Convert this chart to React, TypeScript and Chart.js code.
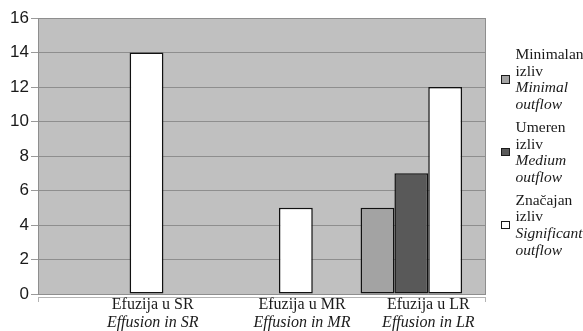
import React, { useEffect, useRef } from "react";
import { Chart, registerables } from "chart.js";

Chart.register(...registerables);

// ---- data ----
const categories = ["SR", "MR", "LR"];
const labelsLocal = ["Efuzija u SR", "Efuzija u MR", "Efuzija u LR"];
const labelsEnglish = ["Effusion in SR", "Effusion in MR", "Effusion in LR"];
const seriesLocal = ["Minimalan izliv", "Umeren izliv", "Značajan izliv"];
const seriesEnglish = ["Minimal outflow", "Medium outflow", "Significant outflow"];
const minimalValues = [0, 0, 5];
const mediumValues = [0, 0, 7];
const significantValues = [14, 5, 12];
const yMin = 0;
const yMax = 16;
const yStep = 2;

// ---- style ----
const seriesColors = ["#a3a3a3", "#595959", "#ffffff"];
const labelShift = [40, 40, 17];
const serif = "'Liberation Serif', 'Times New Roman', serif";
const sans = "'Liberation Sans', Arial, sans-serif";
const textColor = "#1a1a1a";

const plotDecor = {
  id: "plotDecor",
  beforeDraw(chart: any) {
    const { ctx, chartArea: a } = chart;
    ctx.save();
    ctx.fillStyle = "#c0c0c0";
    ctx.fillRect(a.left, a.top, a.right - a.left, a.bottom - a.top);
    ctx.strokeStyle = "#8e8e8e";
    ctx.lineWidth = 1;
    ctx.strokeRect(a.left + 0.5, a.top + 0.5, a.right - a.left - 1, a.bottom - a.top);
    ctx.restore();
  },
  afterDraw(chart: any) {
    const { ctx, chartArea: a } = chart;
    const xs = chart.scales.x;
    ctx.save();
    // axis line below plot
    ctx.strokeStyle = "#b4b4b4";
    ctx.lineWidth = 1;
    ctx.beginPath();
    ctx.moveTo(a.left, a.bottom + 3.5);
    ctx.lineTo(a.right, a.bottom + 3.5);
    ctx.moveTo(a.left + 0.5, a.bottom + 3.5);
    ctx.lineTo(a.left + 0.5, a.bottom + 8);
    ctx.moveTo(a.right - 0.5, a.bottom + 3.5);
    ctx.lineTo(a.right - 0.5, a.bottom + 8);
    ctx.stroke();
    ctx.fillStyle = textColor;
    ctx.textAlign = "center";
    ctx.textBaseline = "middle";
    categories.forEach((_, i) => {
      const x = xs.getPixelForValue(i) + labelShift[i];
      ctx.font = `16px ${serif}`;
      ctx.fillText(labelsLocal[i], x, a.bottom + 11);
      ctx.font = `italic 16px ${serif}`;
      ctx.fillText(labelsEnglish[i], x, a.bottom + 29);
    });
    ctx.restore();
  },
};

export default function App() {
  const ref = useRef<HTMLCanvasElement>(null);

  useEffect(() => {
    if (!ref.current) return;
    const values = [minimalValues, mediumValues, significantValues];
    const chart = new Chart(ref.current, {
      type: "bar",
      data: {
        labels: categories,
        datasets: seriesLocal.map((name, i) => ({
          label: name,
          data: values[i],
          backgroundColor: seriesColors[i],
          borderColor: "#111111",
          borderWidth: 1.5,
          borderSkipped: false,
          categoryPercentage: 0.68,
          barPercentage: 1,
        })),
      },
      options: {
        animation: false,
        responsive: false,
        maintainAspectRatio: false,
        layout: { padding: { top: 18, right: 97, left: 0, bottom: 0 } },
        plugins: { legend: { display: false }, tooltip: { enabled: false } },
        scales: {
          x: {
            grid: { display: false, drawTicks: false },
            border: { display: false },
            ticks: { display: false },
            afterFit: (s: any) => {
              s.height = 37;
            },
          },
          y: {
            min: yMin,
            max: yMax,
            ticks: {
              stepSize: yStep,
              color: textColor,
              font: { family: sans, size: 17 },
              padding: 2,
            },
            grid: { color: "#8e8e8e", tickLength: 7, tickColor: "#9a9a9a" },
            border: { display: false },
            afterFit: (s: any) => {
              s.width = 38;
            },
          },
        },
      },
      plugins: [plotDecor],
    });
    return () => chart.destroy();
  }, []);

  return (
    <div
      style={{
        position: "fixed",
        left: 0,
        top: 0,
        width: 583,
        height: 331,
        background: "#ffffff",
        overflow: "hidden",
      }}
    >
      <canvas ref={ref} width={583} height={331} style={{ position: "absolute", left: 0, top: 0 }} />
      <div
        style={{
          position: "absolute",
          left: 501,
          top: 46,
          display: "flex",
          flexDirection: "column",
          gap: 6,
          fontFamily: serif,
          fontSize: 15.5,
          lineHeight: "16.7px",
          color: textColor,
        }}
      >
        {seriesLocal.map((name, i) => (
          <div key={name} style={{ display: "flex", alignItems: "center" }}>
            <div
              style={{
                width: 6.5,
                height: 6.5,
                background: seriesColors[i],
                border: "1.5px solid #1a1a1a",
                marginRight: 6,
                flex: "none",
              }}
            />
            <div style={{ whiteSpace: "nowrap" }}>
              {name.split(" ").map((w) => (
                <div key={w}>{w}</div>
              ))}
              {seriesEnglish[i].split(" ").map((w) => (
                <div key={w} style={{ fontStyle: "italic" }}>
                  {w}
                </div>
              ))}
            </div>
          </div>
        ))}
      </div>
    </div>
  );
}
